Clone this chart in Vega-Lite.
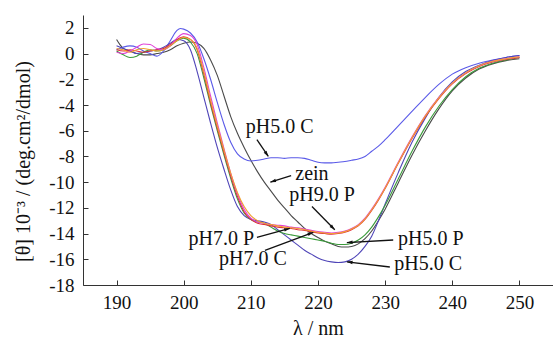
{
 "$schema": "https://vega.github.io/schema/vega-lite/v6.json",
 "width": 470, "height": 270,
 "autosize": {"type": "none"},
 "padding": {"left": 83, "top": 15, "right": 0, "bottom": 57},
 "background": "white",
 "config": {"view": {"stroke": null}, "font": "Liberation Serif",
  "axis": {"labelFont": "Liberation Serif", "titleFont": "Liberation Serif", "labelOverlap": false, "labelBound": false},
  "text": {"font": "Liberation Serif"}},
 "datasets": {
  "curves": [
   {"s":"zein","x":190,"y":1.1},{"s":"zein","x":190.5,"y":0.7},{"s":"zein","x":191,"y":0.4},{"s":"zein","x":192,"y":0.2},{"s":"zein","x":193,"y":0.0},{"s":"zein","x":194,"y":-0.1},{"s":"zein","x":195,"y":-0.1},{"s":"zein","x":196,"y":0.0},{"s":"zein","x":197,"y":0.1},{"s":"zein","x":198,"y":0.3},{"s":"zein","x":199,"y":0.6},{"s":"zein","x":200,"y":0.8},{"s":"zein","x":201,"y":0.9},{"s":"zein","x":202,"y":0.8},{"s":"zein","x":203,"y":0.4},{"s":"zein","x":204,"y":-0.5},{"s":"zein","x":205,"y":-1.7},{"s":"zein","x":206,"y":-3.3},{"s":"zein","x":207,"y":-4.9},{"s":"zein","x":208,"y":-6.2},{"s":"zein","x":209,"y":-7.3},{"s":"zein","x":210,"y":-8.3},{"s":"zein","x":211,"y":-9.2},{"s":"zein","x":212,"y":-10.0},{"s":"zein","x":213,"y":-10.7},{"s":"zein","x":214,"y":-11.4},{"s":"zein","x":215,"y":-12.0},{"s":"zein","x":216,"y":-12.6},{"s":"zein","x":217,"y":-13.1},{"s":"zein","x":218,"y":-13.6},{"s":"zein","x":219,"y":-14.0},{"s":"zein","x":220,"y":-14.3},{"s":"zein","x":221,"y":-14.6},{"s":"zein","x":222,"y":-14.8},{"s":"zein","x":223,"y":-15.0},{"s":"zein","x":224,"y":-15.05},{"s":"zein","x":225,"y":-15.0},{"s":"zein","x":226,"y":-14.8},{"s":"zein","x":227,"y":-14.4},{"s":"zein","x":228,"y":-13.8},{"s":"zein","x":229,"y":-13.0},{"s":"zein","x":230,"y":-12.1},{"s":"zein","x":232,"y":-10.0},{"s":"zein","x":234,"y":-7.9},{"s":"zein","x":236,"y":-6.0},{"s":"zein","x":238,"y":-4.3},{"s":"zein","x":240,"y":-2.9},{"s":"zein","x":242,"y":-1.9},{"s":"zein","x":244,"y":-1.2},{"s":"zein","x":246,"y":-0.8},{"s":"zein","x":248,"y":-0.55},{"s":"zein","x":250,"y":-0.4},
   {"s":"pH5.0 C-1","x":190,"y":0.3},{"s":"pH5.0 C-1","x":191,"y":0.5},{"s":"pH5.0 C-1","x":192,"y":0.6},{"s":"pH5.0 C-1","x":193,"y":0.5},{"s":"pH5.0 C-1","x":194,"y":0.2},{"s":"pH5.0 C-1","x":195,"y":0.0},{"s":"pH5.0 C-1","x":196,"y":-0.2},{"s":"pH5.0 C-1","x":197,"y":0.2},{"s":"pH5.0 C-1","x":198,"y":1.0},{"s":"pH5.0 C-1","x":199,"y":1.8},{"s":"pH5.0 C-1","x":199.5,"y":1.95},{"s":"pH5.0 C-1","x":200,"y":1.9},{"s":"pH5.0 C-1","x":201,"y":1.6},{"s":"pH5.0 C-1","x":202,"y":0.9},{"s":"pH5.0 C-1","x":203,"y":-0.4},{"s":"pH5.0 C-1","x":204,"y":-2.0},{"s":"pH5.0 C-1","x":205,"y":-3.8},{"s":"pH5.0 C-1","x":206,"y":-5.5},{"s":"pH5.0 C-1","x":207,"y":-6.9},{"s":"pH5.0 C-1","x":208,"y":-7.8},{"s":"pH5.0 C-1","x":209,"y":-8.2},{"s":"pH5.0 C-1","x":210,"y":-8.35},{"s":"pH5.0 C-1","x":211,"y":-8.3},{"s":"pH5.0 C-1","x":212,"y":-8.2},{"s":"pH5.0 C-1","x":213,"y":-8.1},{"s":"pH5.0 C-1","x":214,"y":-8.1},{"s":"pH5.0 C-1","x":215,"y":-8.15},{"s":"pH5.0 C-1","x":216,"y":-8.1},{"s":"pH5.0 C-1","x":217,"y":-8.1},{"s":"pH5.0 C-1","x":218,"y":-8.15},{"s":"pH5.0 C-1","x":219,"y":-8.3},{"s":"pH5.0 C-1","x":220,"y":-8.45},{"s":"pH5.0 C-1","x":221,"y":-8.5},{"s":"pH5.0 C-1","x":222,"y":-8.5},{"s":"pH5.0 C-1","x":223,"y":-8.45},{"s":"pH5.0 C-1","x":224,"y":-8.4},{"s":"pH5.0 C-1","x":225,"y":-8.3},{"s":"pH5.0 C-1","x":226,"y":-8.2},{"s":"pH5.0 C-1","x":227,"y":-8.0},{"s":"pH5.0 C-1","x":228,"y":-7.6},{"s":"pH5.0 C-1","x":229,"y":-7.2},{"s":"pH5.0 C-1","x":230,"y":-6.7},{"s":"pH5.0 C-1","x":232,"y":-5.6},{"s":"pH5.0 C-1","x":234,"y":-4.5},{"s":"pH5.0 C-1","x":236,"y":-3.4},{"s":"pH5.0 C-1","x":238,"y":-2.4},{"s":"pH5.0 C-1","x":240,"y":-1.6},{"s":"pH5.0 C-1","x":242,"y":-1.1},{"s":"pH5.0 C-1","x":244,"y":-0.75},{"s":"pH5.0 C-1","x":246,"y":-0.5},{"s":"pH5.0 C-1","x":248,"y":-0.3},{"s":"pH5.0 C-1","x":250,"y":-0.15},
   {"s":"pH5.0 C-2","x":190,"y":0.6},{"s":"pH5.0 C-2","x":191,"y":0.4},{"s":"pH5.0 C-2","x":192,"y":0.2},{"s":"pH5.0 C-2","x":193,"y":0.0},{"s":"pH5.0 C-2","x":194,"y":0.1},{"s":"pH5.0 C-2","x":195,"y":0.2},{"s":"pH5.0 C-2","x":196,"y":0.3},{"s":"pH5.0 C-2","x":197,"y":0.5},{"s":"pH5.0 C-2","x":198,"y":0.8},{"s":"pH5.0 C-2","x":199,"y":1.1},{"s":"pH5.0 C-2","x":200,"y":1.0},{"s":"pH5.0 C-2","x":201,"y":0.3},{"s":"pH5.0 C-2","x":202,"y":-1.4},{"s":"pH5.0 C-2","x":203,"y":-3.4},{"s":"pH5.0 C-2","x":204,"y":-5.4},{"s":"pH5.0 C-2","x":205,"y":-7.3},{"s":"pH5.0 C-2","x":206,"y":-9.0},{"s":"pH5.0 C-2","x":207,"y":-10.6},{"s":"pH5.0 C-2","x":208,"y":-11.9},{"s":"pH5.0 C-2","x":209,"y":-12.6},{"s":"pH5.0 C-2","x":210,"y":-12.9},{"s":"pH5.0 C-2","x":211,"y":-13.0},{"s":"pH5.0 C-2","x":212,"y":-13.1},{"s":"pH5.0 C-2","x":213,"y":-13.3},{"s":"pH5.0 C-2","x":214,"y":-13.7},{"s":"pH5.0 C-2","x":215,"y":-14.1},{"s":"pH5.0 C-2","x":216,"y":-14.5},{"s":"pH5.0 C-2","x":217,"y":-14.9},{"s":"pH5.0 C-2","x":218,"y":-15.3},{"s":"pH5.0 C-2","x":219,"y":-15.6},{"s":"pH5.0 C-2","x":220,"y":-15.9},{"s":"pH5.0 C-2","x":221,"y":-16.1},{"s":"pH5.0 C-2","x":222,"y":-16.2},{"s":"pH5.0 C-2","x":223,"y":-16.25},{"s":"pH5.0 C-2","x":224,"y":-16.2},{"s":"pH5.0 C-2","x":225,"y":-16.0},{"s":"pH5.0 C-2","x":226,"y":-15.6},{"s":"pH5.0 C-2","x":227,"y":-15.0},{"s":"pH5.0 C-2","x":228,"y":-14.2},{"s":"pH5.0 C-2","x":229,"y":-13.0},{"s":"pH5.0 C-2","x":230,"y":-11.7},{"s":"pH5.0 C-2","x":232,"y":-9.2},{"s":"pH5.0 C-2","x":234,"y":-6.9},{"s":"pH5.0 C-2","x":236,"y":-5.0},{"s":"pH5.0 C-2","x":238,"y":-3.4},{"s":"pH5.0 C-2","x":240,"y":-2.2},{"s":"pH5.0 C-2","x":242,"y":-1.4},{"s":"pH5.0 C-2","x":244,"y":-0.9},{"s":"pH5.0 C-2","x":246,"y":-0.55},{"s":"pH5.0 C-2","x":248,"y":-0.3},{"s":"pH5.0 C-2","x":250,"y":-0.15},
   {"s":"pH5.0 P","x":190,"y":0.2},{"s":"pH5.0 P","x":191,"y":-0.1},{"s":"pH5.0 P","x":192,"y":-0.3},{"s":"pH5.0 P","x":193,"y":-0.2},{"s":"pH5.0 P","x":194,"y":0.1},{"s":"pH5.0 P","x":195,"y":0.3},{"s":"pH5.0 P","x":196,"y":0.2},{"s":"pH5.0 P","x":197,"y":0.3},{"s":"pH5.0 P","x":198,"y":0.6},{"s":"pH5.0 P","x":199,"y":1.0},{"s":"pH5.0 P","x":200,"y":1.2},{"s":"pH5.0 P","x":201,"y":0.9},{"s":"pH5.0 P","x":202,"y":0.0},{"s":"pH5.0 P","x":203,"y":-1.9},{"s":"pH5.0 P","x":204,"y":-4.0},{"s":"pH5.0 P","x":205,"y":-6.0},{"s":"pH5.0 P","x":206,"y":-7.9},{"s":"pH5.0 P","x":207,"y":-9.7},{"s":"pH5.0 P","x":208,"y":-11.3},{"s":"pH5.0 P","x":209,"y":-12.4},{"s":"pH5.0 P","x":210,"y":-12.9},{"s":"pH5.0 P","x":211,"y":-13.1},{"s":"pH5.0 P","x":212,"y":-13.2},{"s":"pH5.0 P","x":213,"y":-13.5},{"s":"pH5.0 P","x":214,"y":-13.8},{"s":"pH5.0 P","x":215,"y":-14.0},{"s":"pH5.0 P","x":216,"y":-14.1},{"s":"pH5.0 P","x":217,"y":-14.2},{"s":"pH5.0 P","x":218,"y":-14.3},{"s":"pH5.0 P","x":219,"y":-14.4},{"s":"pH5.0 P","x":220,"y":-14.5},{"s":"pH5.0 P","x":221,"y":-14.6},{"s":"pH5.0 P","x":222,"y":-14.75},{"s":"pH5.0 P","x":223,"y":-14.85},{"s":"pH5.0 P","x":224,"y":-14.85},{"s":"pH5.0 P","x":225,"y":-14.75},{"s":"pH5.0 P","x":226,"y":-14.5},{"s":"pH5.0 P","x":227,"y":-14.1},{"s":"pH5.0 P","x":228,"y":-13.5},{"s":"pH5.0 P","x":229,"y":-12.7},{"s":"pH5.0 P","x":230,"y":-11.8},{"s":"pH5.0 P","x":232,"y":-9.7},{"s":"pH5.0 P","x":234,"y":-7.6},{"s":"pH5.0 P","x":236,"y":-5.7},{"s":"pH5.0 P","x":238,"y":-4.1},{"s":"pH5.0 P","x":240,"y":-2.8},{"s":"pH5.0 P","x":242,"y":-1.8},{"s":"pH5.0 P","x":244,"y":-1.15},{"s":"pH5.0 P","x":246,"y":-0.75},{"s":"pH5.0 P","x":248,"y":-0.5},{"s":"pH5.0 P","x":250,"y":-0.3},
   {"s":"pH7.0 P","x":190,"y":0.3},{"s":"pH7.0 P","x":191,"y":0.2},{"s":"pH7.0 P","x":192,"y":0.3},{"s":"pH7.0 P","x":193,"y":0.2},{"s":"pH7.0 P","x":194,"y":0.1},{"s":"pH7.0 P","x":195,"y":0.2},{"s":"pH7.0 P","x":196,"y":0.3},{"s":"pH7.0 P","x":197,"y":0.4},{"s":"pH7.0 P","x":198,"y":0.7},{"s":"pH7.0 P","x":199,"y":1.1},{"s":"pH7.0 P","x":200,"y":1.3},{"s":"pH7.0 P","x":201,"y":1.1},{"s":"pH7.0 P","x":202,"y":0.3},{"s":"pH7.0 P","x":203,"y":-1.6},{"s":"pH7.0 P","x":204,"y":-3.8},{"s":"pH7.0 P","x":205,"y":-5.8},{"s":"pH7.0 P","x":206,"y":-7.7},{"s":"pH7.0 P","x":207,"y":-9.5},{"s":"pH7.0 P","x":208,"y":-11.1},{"s":"pH7.0 P","x":209,"y":-12.3},{"s":"pH7.0 P","x":210,"y":-12.9},{"s":"pH7.0 P","x":211,"y":-13.2},{"s":"pH7.0 P","x":212,"y":-13.3},{"s":"pH7.0 P","x":213,"y":-13.4},{"s":"pH7.0 P","x":214,"y":-13.5},{"s":"pH7.0 P","x":215,"y":-13.55},{"s":"pH7.0 P","x":216,"y":-13.6},{"s":"pH7.0 P","x":217,"y":-13.7},{"s":"pH7.0 P","x":218,"y":-13.75},{"s":"pH7.0 P","x":219,"y":-13.85},{"s":"pH7.0 P","x":220,"y":-13.95},{"s":"pH7.0 P","x":221,"y":-14.0},{"s":"pH7.0 P","x":222,"y":-14.05},{"s":"pH7.0 P","x":223,"y":-14.0},{"s":"pH7.0 P","x":224,"y":-13.9},{"s":"pH7.0 P","x":225,"y":-13.7},{"s":"pH7.0 P","x":226,"y":-13.4},{"s":"pH7.0 P","x":227,"y":-12.9},{"s":"pH7.0 P","x":228,"y":-12.2},{"s":"pH7.0 P","x":229,"y":-11.4},{"s":"pH7.0 P","x":230,"y":-10.5},{"s":"pH7.0 P","x":232,"y":-8.5},{"s":"pH7.0 P","x":234,"y":-6.6},{"s":"pH7.0 P","x":236,"y":-4.9},{"s":"pH7.0 P","x":238,"y":-3.5},{"s":"pH7.0 P","x":240,"y":-2.35},{"s":"pH7.0 P","x":242,"y":-1.55},{"s":"pH7.0 P","x":244,"y":-1.0},{"s":"pH7.0 P","x":246,"y":-0.65},{"s":"pH7.0 P","x":248,"y":-0.45},{"s":"pH7.0 P","x":250,"y":-0.3},
   {"s":"pH9.0 P","x":190,"y":0.1},{"s":"pH9.0 P","x":191,"y":0.0},{"s":"pH9.0 P","x":192,"y":0.2},{"s":"pH9.0 P","x":193,"y":0.5},{"s":"pH9.0 P","x":194,"y":0.75},{"s":"pH9.0 P","x":195,"y":0.7},{"s":"pH9.0 P","x":196,"y":0.4},{"s":"pH9.0 P","x":197,"y":0.3},{"s":"pH9.0 P","x":198,"y":0.6},{"s":"pH9.0 P","x":199,"y":1.2},{"s":"pH9.0 P","x":200,"y":1.55},{"s":"pH9.0 P","x":201,"y":1.4},{"s":"pH9.0 P","x":202,"y":0.7},{"s":"pH9.0 P","x":203,"y":-1.1},{"s":"pH9.0 P","x":204,"y":-3.3},{"s":"pH9.0 P","x":205,"y":-5.4},{"s":"pH9.0 P","x":206,"y":-7.4},{"s":"pH9.0 P","x":207,"y":-9.3},{"s":"pH9.0 P","x":208,"y":-10.9},{"s":"pH9.0 P","x":209,"y":-12.1},{"s":"pH9.0 P","x":210,"y":-12.8},{"s":"pH9.0 P","x":211,"y":-13.1},{"s":"pH9.0 P","x":212,"y":-13.2},{"s":"pH9.0 P","x":213,"y":-13.3},{"s":"pH9.0 P","x":214,"y":-13.35},{"s":"pH9.0 P","x":215,"y":-13.4},{"s":"pH9.0 P","x":216,"y":-13.5},{"s":"pH9.0 P","x":217,"y":-13.55},{"s":"pH9.0 P","x":218,"y":-13.65},{"s":"pH9.0 P","x":219,"y":-13.75},{"s":"pH9.0 P","x":220,"y":-13.85},{"s":"pH9.0 P","x":221,"y":-13.9},{"s":"pH9.0 P","x":222,"y":-13.95},{"s":"pH9.0 P","x":223,"y":-13.9},{"s":"pH9.0 P","x":224,"y":-13.8},{"s":"pH9.0 P","x":225,"y":-13.6},{"s":"pH9.0 P","x":226,"y":-13.3},{"s":"pH9.0 P","x":227,"y":-12.8},{"s":"pH9.0 P","x":228,"y":-12.1},{"s":"pH9.0 P","x":229,"y":-11.3},{"s":"pH9.0 P","x":230,"y":-10.4},{"s":"pH9.0 P","x":232,"y":-8.4},{"s":"pH9.0 P","x":234,"y":-6.5},{"s":"pH9.0 P","x":236,"y":-4.8},{"s":"pH9.0 P","x":238,"y":-3.4},{"s":"pH9.0 P","x":240,"y":-2.3},{"s":"pH9.0 P","x":242,"y":-1.5},{"s":"pH9.0 P","x":244,"y":-0.95},{"s":"pH9.0 P","x":246,"y":-0.6},{"s":"pH9.0 P","x":248,"y":-0.4},{"s":"pH9.0 P","x":250,"y":-0.25},
   {"s":"pH7.0 C","x":190,"y":0.4},{"s":"pH7.0 C","x":191,"y":0.3},{"s":"pH7.0 C","x":192,"y":0.1},{"s":"pH7.0 C","x":193,"y":0.3},{"s":"pH7.0 C","x":194,"y":0.4},{"s":"pH7.0 C","x":195,"y":0.3},{"s":"pH7.0 C","x":196,"y":0.2},{"s":"pH7.0 C","x":197,"y":0.3},{"s":"pH7.0 C","x":198,"y":0.6},{"s":"pH7.0 C","x":199,"y":1.0},{"s":"pH7.0 C","x":200,"y":1.25},{"s":"pH7.0 C","x":201,"y":1.1},{"s":"pH7.0 C","x":202,"y":0.4},{"s":"pH7.0 C","x":203,"y":-1.4},{"s":"pH7.0 C","x":204,"y":-3.6},{"s":"pH7.0 C","x":205,"y":-5.6},{"s":"pH7.0 C","x":206,"y":-7.5},{"s":"pH7.0 C","x":207,"y":-9.3},{"s":"pH7.0 C","x":208,"y":-10.8},{"s":"pH7.0 C","x":209,"y":-11.9},{"s":"pH7.0 C","x":210,"y":-12.6},{"s":"pH7.0 C","x":211,"y":-13.0},{"s":"pH7.0 C","x":212,"y":-13.2},{"s":"pH7.0 C","x":213,"y":-13.3},{"s":"pH7.0 C","x":214,"y":-13.4},{"s":"pH7.0 C","x":215,"y":-13.5},{"s":"pH7.0 C","x":216,"y":-13.55},{"s":"pH7.0 C","x":217,"y":-13.6},{"s":"pH7.0 C","x":218,"y":-13.7},{"s":"pH7.0 C","x":219,"y":-13.8},{"s":"pH7.0 C","x":220,"y":-13.9},{"s":"pH7.0 C","x":221,"y":-13.95},{"s":"pH7.0 C","x":222,"y":-14.0},{"s":"pH7.0 C","x":223,"y":-13.95},{"s":"pH7.0 C","x":224,"y":-13.85},{"s":"pH7.0 C","x":225,"y":-13.65},{"s":"pH7.0 C","x":226,"y":-13.35},{"s":"pH7.0 C","x":227,"y":-12.85},{"s":"pH7.0 C","x":228,"y":-12.15},{"s":"pH7.0 C","x":229,"y":-11.35},{"s":"pH7.0 C","x":230,"y":-10.45},{"s":"pH7.0 C","x":232,"y":-8.45},{"s":"pH7.0 C","x":234,"y":-6.55},{"s":"pH7.0 C","x":236,"y":-4.85},{"s":"pH7.0 C","x":238,"y":-3.45},{"s":"pH7.0 C","x":240,"y":-2.3},{"s":"pH7.0 C","x":242,"y":-1.5},{"s":"pH7.0 C","x":244,"y":-0.95},{"s":"pH7.0 C","x":246,"y":-0.6},{"s":"pH7.0 C","x":248,"y":-0.4},{"s":"pH7.0 C","x":250,"y":-0.25}
  ],
  "notes": [
   {"label":"pH5.0 C","tx":214.3,"ty":-5.7,"x1":210.9,"y1":-6.7,"x2":212.6,"y2":-8.0},
   {"label":"zein","tx":219.1,"ty":-9.4,"x1":216.0,"y1":-9.5,"x2":212.9,"y2":-10.0},
   {"label":"pH9.0 P","tx":220.6,"ty":-11.0,"x1":219.1,"y1":-11.9,"x2":222.5,"y2":-13.7},
   {"label":"pH7.0 P","tx":205.6,"ty":-14.4,"x1":210.9,"y1":-14.3,"x2":215.8,"y2":-13.6},
   {"label":"pH7.0 C","tx":210.3,"ty":-16.0,"x1":212.1,"y1":-15.3,"x2":219.3,"y2":-13.9},
   {"label":"pH5.0 P","tx":236.8,"ty":-14.4,"x1":231.2,"y1":-14.5,"x2":224.3,"y2":-14.7},
   {"label":"pH5.0 C","tx":236.4,"ty":-16.4,"x1":230.7,"y1":-16.6,"x2":224.3,"y2":-16.2}
  ]
 },
 "layer": [
  {
   "data": {"name": "curves"},
   "mark": {"type": "line", "strokeWidth": 1.1, "interpolate": "monotone"},
   "encoding": {
    "x": {"field": "x", "type": "quantitative",
     "scale": {"domain": [185, 255], "nice": false, "zero": false},
     "axis": {"values": [190, 200, 210, 220, 230, 240, 250], "tickCount": 20, "grid": false, "tickSize": -5, "labelPadding": 13, "labelOverlap": false,
      "domainColor": "#333", "tickColor": "#333", "labelColor": "#111", "labelFontSize": 19,
      "title": "λ / nm", "titleFontSize": 20, "titleFontWeight": "normal", "titleColor": "#111",
      "titleBaseline": "alphabetic", "titleY": 49}},
    "y": {"field": "y", "type": "quantitative",
     "scale": {"domain": [-18, 3], "nice": false, "zero": false},
     "axis": {"values": [-18, -16, -14, -12, -10, -8, -6, -4, -2, 0, 2], "tickCount": 20, "grid": false, "tickSize": -5, "labelPadding": 14, "labelOverlap": false,
      "labelExpr": "'' + datum.value",
      "domainColor": "#333", "tickColor": "#333", "labelColor": "#111", "labelFontSize": 19,
      "title": "[θ] 10⁻³ / (deg.cm²/dmol)", "titleFontSize": 20, "titleFontWeight": "normal", "titleColor": "#111",
      "titleAngle": -90, "titleX": -60, "titleY": 146, "titleAlign": "center", "titleBaseline": "middle"}},
    "color": {"field": "s", "type": "nominal", "legend": null,
     "scale": {"domain": ["zein", "pH5.0 C-1", "pH5.0 C-2", "pH5.0 P", "pH7.0 P", "pH9.0 P", "pH7.0 C"],
      "range": ["#4a4a4a", "#5a5ae8", "#4f45b8", "#3a9a3a", "#e0303a", "#e040d8", "#f0a030"]}}
   }
  },
  {
   "data": {"name": "notes"},
   "mark": {"type": "rule", "color": "#111", "strokeWidth": 1.3},
   "encoding": {
    "x": {"field": "x1", "type": "quantitative"},
    "y": {"field": "y1", "type": "quantitative"},
    "x2": {"field": "x2"},
    "y2": {"field": "y2"}
   }
  },
  {
   "data": {"name": "notes"},
   "transform": [{"calculate": "atan2(-(datum.y2 - datum.y1) * 12.857, (datum.x2 - datum.x1) * 6.714) * 180 / PI + 90", "as": "ang"}],
   "mark": {"type": "point", "shape": "M0,0L0.55,1.8L-0.55,1.8Z", "filled": true, "color": "#111", "opacity": 1, "size": 40},
   "encoding": {
    "x": {"field": "x2", "type": "quantitative"},
    "y": {"field": "y2", "type": "quantitative"},
    "angle": {"field": "ang", "type": "quantitative", "scale": null}
   }
  },
  {
   "data": {"name": "notes"},
   "mark": {"type": "text", "font": "Liberation Serif", "fontSize": 20, "color": "#111", "align": "center", "baseline": "middle"},
   "encoding": {
    "x": {"field": "tx", "type": "quantitative"},
    "y": {"field": "ty", "type": "quantitative"},
    "text": {"field": "label"}
   }
  }
 ]
}
